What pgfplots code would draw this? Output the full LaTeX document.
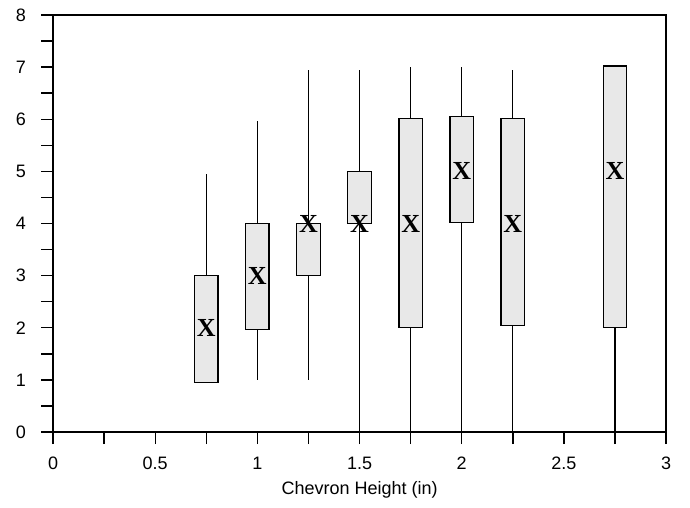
\documentclass[border=0pt]{standalone}
\usepackage{fontspec}
\setmainfont{Liberation Sans}
\newfontfamily\tms{Liberation Serif}
\usepackage{pgfplots}
\pgfplotsset{compat=1.18}
\usepgfplotslibrary{statistics}

\begin{document}
\begin{tikzpicture}
\begin{axis}[
  width=306.5pt, height=208.5pt, scale only axis,
  xmin=0, xmax=3, ymin=0, ymax=8,
  xtick={0,0.5,...,3}, minor x tick num=1,
  ytick={0,1,...,8}, minor y tick num=1,
  xticklabels={0,0.5,1,1.5,2,2.5,3},
  tick align=outside, xtick pos=left, ytick pos=left,
  major tick length=6pt, minor tick length=6pt,
  every tick/.style={black, line width=0.7pt},
  axis line style={line width=0.8pt},
  /pgf/number format/assume math mode=true,
  tick label style={font=\fontsize{9}{10}\selectfont},
  xticklabel style={yshift=-3pt},
  yticklabel style={xshift=-4pt},
  xlabel={Chevron Height (in)},
  label style={font=\fontsize{9}{10}\selectfont},
  xlabel style={yshift=1pt},
  every axis plot/.append style={line width=0.65pt},
  boxplot/draw direction=y,
  boxplot/every box/.style={draw=black, fill=gray!18},
  boxplot/every median/.style={draw=none},
  clip=false]

\addplot[black, boxplot prepared={draw position=0.75, lower whisker=1, lower quartile=0.95, median=2, upper quartile=3, upper whisker=4.95, box extend=0.115, whisker extend=0}] coordinates {};
\addplot[black, boxplot prepared={draw position=1, lower whisker=1, lower quartile=1.97, median=3, upper quartile=4, upper whisker=5.97, box extend=0.115, whisker extend=0}] coordinates {};
\addplot[black, boxplot prepared={draw position=1.25, lower whisker=1, lower quartile=3, median=4, upper quartile=4, upper whisker=6.95, box extend=0.115, whisker extend=0}] coordinates {};
\addplot[black, boxplot prepared={draw position=1.5, lower whisker=0, lower quartile=4, median=4, upper quartile=5, upper whisker=6.95, box extend=0.115, whisker extend=0}] coordinates {};
\addplot[black, boxplot prepared={draw position=1.75, lower whisker=0, lower quartile=2, median=4, upper quartile=6.02, upper whisker=7, box extend=0.115, whisker extend=0}] coordinates {};
\addplot[black, boxplot prepared={draw position=2, lower whisker=0, lower quartile=4.02, median=5, upper quartile=6.05, upper whisker=7, box extend=0.115, whisker extend=0}] coordinates {};
\addplot[black, boxplot prepared={draw position=2.25, lower whisker=0, lower quartile=2.05, median=4, upper quartile=6.02, upper whisker=6.95, box extend=0.115, whisker extend=0}] coordinates {};
\addplot[black, boxplot prepared={draw position=2.75, lower whisker=0, lower quartile=2, median=5, upper quartile=7.02, upper whisker=7.02, box extend=0.115, whisker extend=0}] coordinates {};

% mean markers
\addplot[only marks, mark=text, text mark as node=true,
  text mark={\fontsize{13}{13}\selectfont\tms\bfseries X}]
  coordinates {(0.75,2) (1,3) (1.25,4) (1.5,4) (1.75,4) (2,5) (2.25,4) (2.75,5)};

\coordinate (bl) at (axis description cs:-0.0865,-0.18);
\coordinate (tr) at (axis description cs:1.039,1.036);
\end{axis}
\path (bl) rectangle (tr);
\end{tikzpicture}
\end{document}
